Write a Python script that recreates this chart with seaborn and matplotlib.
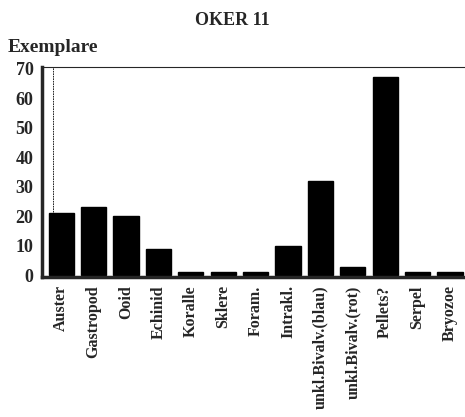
import matplotlib
matplotlib.use('Agg')
import matplotlib.pyplot as plt
import seaborn as sns
import numpy as np
import pandas as pd

categories = ['Auster', 'Gastropod', 'Ooid', 'Echinid', 'Koralle', 'Sklere', 'Foram.',
              'Intrakl.', 'unkl.Bivalv.(blau)', 'unkl.Bivalv.(rot)', 'Pellets?', 'Serpel', 'Bryozoe']
exemplare = [21, 23, 20, 9, 1, 1, 1, 10, 32, 3, 67, 1, 1]
yticks = [0, 10, 20, 30, 40, 50, 60, 70]

sns.set_style('white')
plt.rcParams['font.family'] = ['Liberation Serif', 'DejaVu Serif']
plt.rcParams['font.weight'] = 'bold'

df = pd.DataFrame({'kategorie': categories, 'exemplare': exemplare})

fig = plt.figure(figsize=(4.65, 4.17), dpi=100)
ax = fig.add_axes([0.09, 0.336, 0.93, 0.503])
sns.barplot(ax=ax, data=df, x='kategorie', y='exemplare', color='black',
            width=0.78, saturation=1, edgecolor='black')

ax.set_ylim(-0.5, 70.5)
ax.set_xlim(-0.6, 12.75)
ax.set_yticks(yticks)
ax.set_yticklabels([str(v) for v in yticks], fontsize=13, fontweight='bold')
ax.set_xticks(range(len(categories)))
ax.set_xticklabels(categories, rotation=90, fontsize=11.5, fontweight='bold')
ax.set_xticks(np.arange(-0.5, len(categories)), minor=True)
ax.tick_params(axis='x', which='major', length=0, pad=6)
ax.tick_params(axis='x', which='minor', direction='out', length=5, width=1.8)
ax.tick_params(axis='y', direction='out', length=5, width=2, pad=1)
ax.set_xlabel('')
ax.set_ylabel('')

for side in ['left', 'bottom']:
    ax.spines[side].set_linewidth(2.5)
ax.spines['top'].set_linewidth(0.8)
ax.spines['right'].set_visible(False)
ax.axvline(-0.25, color='black', lw=0.6, ls=(0, (2, 1)))

fig.text(0.5, 0.952, 'OKER 11', ha='center', va='center', fontsize=13, fontweight='bold')
fig.text(0.017, 0.885, 'Exemplare', ha='left', va='center', fontsize=14, fontweight='bold')

fig.savefig('out.png', dpi=100)
